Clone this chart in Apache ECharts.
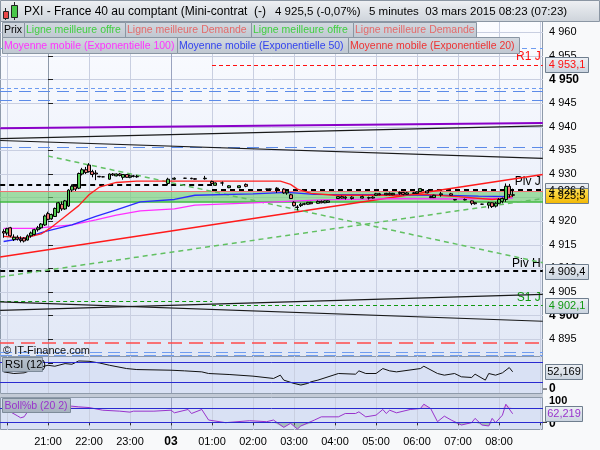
<!DOCTYPE html>
<html>
<head>
<meta charset="utf-8">
<script src="https://cdn.jsdelivr.net/npm/echarts@6/dist/echarts.min.js"></script>
<style>
  html, body { margin: 0; padding: 0; background: #f8f9fa; }
  #chart { width: 600px; height: 450px; }
</style>
</head>
<body>
<div id="chart"></div>
<script>
// bougies 5 minutes, PXI mini-contrat, soirée du 02 au matin du 03 mars
const candleTimes = [
  '19:55','20:00','20:05','20:10','20:15','20:20','20:25','20:30','20:35','20:40','20:45','20:50','20:55',
  '21:00','21:05','21:10','21:15','21:20','21:25','21:30','21:35','21:40','21:45','21:50','21:55',
  '22:00','22:05','22:10','22:15','22:20','22:30','22:35','22:40','22:45','22:50','22:55','23:00','23:05','23:10',
  '23:55','00:05','00:20','00:30','00:35','00:50','01:00','01:05','01:15','01:25','01:40','01:50',
  '02:20','02:25','02:35','02:45','02:50','02:55','03:00','03:05','03:10','03:15','03:20','03:25','03:35','03:40','03:45','03:50',
  '04:05','04:10','04:15','04:25','04:40','04:50','04:55','05:00','05:05','05:15','05:20','05:25','05:35','05:40','05:45','05:55',
  '06:00','06:05','06:15','06:20','06:25','06:35','06:50','06:55','07:10','07:20','07:25','07:35','07:45','07:50','07:55','08:00','08:05','08:10','08:15','08:20'
];
const opens = [
  4917.8,4917.5,4918.6,4916.1,4916.6,4916.2,4916.4,4916.0,4916.9,4917.2,4918.2,4918.6,4919.2,
  4921.6,4920.5,4921.0,4921.9,4923.6,4922.6,4923.2,4926.6,4927.4,4927.0,4930.0,4930.9,
  4931.9,4930.5,4930.2,4929.5,4929.4,4928.9,4930.0,4929.6,4930.0,4929.3,4929.9,4929.3,4929.6,4929.5,
  4928.0,4928.9,4929.1,4929.1,4929.0,4929.0,4928.4,4927.6,4928.1,4927.1,4927.1,4927.8,
  4926.8,4926.8,4927.0,4926.8,4926.0,4925.6,4924.0,4923.0,4923.3,4923.6,4923.6,4924.0,4923.8,4924.2,4923.9,4924.0,
  4924.8,4925.2,4924.9,4925.1,4924.9,4925.0,4924.9,4925.5,4925.8,4925.6,4925.9,4925.6,4925.9,4926.1,4925.7,4926.0,
  4925.9,4926.3,4926.4,4925.2,4925.0,4925.6,4925.8,4924.6,4924.6,4924.3,4923.9,4923.6,4923.4,4923.9,4923.2,4923.8,4924.2,4924.6,4927.4,4925.6
];
const highs = [
  4918.3,4918.6,4918.8,4917.2,4917.0,4916.8,4916.6,4917.2,4917.8,4918.4,4919.0,4919.6,4921.4,
  4922.0,4921.6,4922.9,4924.1,4924.2,4924.5,4926.8,4927.8,4927.8,4930.3,4931.3,4931.5,
  4932.3,4930.9,4930.8,4929.6,4929.5,4930.1,4930.2,4930.1,4930.2,4930.0,4930.0,4929.9,4929.8,4929.8,
  4929.2,4929.3,4929.2,4929.2,4929.1,4929.6,4928.6,4928.2,4928.4,4927.6,4927.6,4928.0,
  4926.9,4926.9,4927.2,4927.0,4926.6,4925.8,4924.2,4923.4,4923.9,4923.9,4924.1,4924.1,4924.4,4924.4,4924.4,4924.4,
  4925.3,4925.4,4925.3,4925.3,4925.4,4925.2,4925.3,4926.0,4926.0,4926.0,4926.1,4926.0,4926.3,4926.2,4926.2,4926.2,
  4926.3,4927.0,4926.6,4925.4,4925.6,4926.2,4926.0,4924.7,4924.8,4924.4,4924.0,4923.7,4924.1,4924.0,4924.1,4924.9,4925.0,4928.0,4927.9,4926.9
];
const lows = [
  4916.5,4917.0,4916.6,4915.8,4915.9,4915.5,4915.5,4915.9,4916.5,4917.0,4917.8,4918.3,4919.0,
  4920.2,4920.3,4920.9,4921.7,4922.2,4922.4,4923.0,4926.2,4926.4,4926.8,4929.7,4930.0,
  4930.3,4929.3,4928.7,4929.3,4929.3,4928.8,4929.6,4929.5,4929.5,4928.8,4929.2,4929.1,4929.3,4929.2,
  4927.6,4928.8,4929.0,4928.9,4928.8,4928.8,4927.9,4927.5,4927.5,4927.0,4927.0,4927.2,
  4926.7,4926.7,4926.0,4925.8,4925.6,4924.7,4923.1,4922.3,4923.0,4923.4,4923.5,4923.6,4923.7,4923.8,4923.8,4923.9,
  4924.7,4924.8,4924.6,4924.6,4924.8,4924.6,4924.8,4925.4,4925.5,4925.5,4925.5,4925.5,4925.6,4925.5,4925.6,4925.8,
  4925.8,4926.2,4925.9,4924.9,4924.9,4925.2,4925.4,4924.4,4924.4,4923.4,4923.5,4923.5,4922.7,4922.8,4922.9,4923.6,4923.8,4924.1,4925.0,4925.2
];
const closes = [
  4917.5,4918.4,4916.9,4916.6,4916.2,4915.9,4915.8,4916.9,4917.5,4918.2,4918.6,4919.4,4921.1,
  4920.4,4921.4,4922.7,4923.9,4922.6,4924.3,4926.6,4927.4,4926.8,4930.1,4930.9,4930.3,
  4930.5,4929.9,4930.0,4929.4,4929.4,4930.0,4929.8,4930.0,4929.7,4929.9,4929.3,4929.6,4929.5,4929.4,
  4928.9,4929.1,4929.1,4929.0,4928.9,4929.1,4928.0,4928.1,4928.1,4927.5,4927.5,4927.4,
  4926.8,4926.8,4926.9,4926.0,4926.4,4924.8,4923.3,4922.9,4923.6,4923.7,4924.0,4923.7,4924.2,4923.9,4924.3,4924.3,
  4925.2,4924.9,4925.1,4924.8,4925.2,4924.9,4925.1,4925.8,4925.6,4925.9,4925.6,4925.9,4926.1,4925.7,4926.0,4925.9,
  4926.2,4926.9,4926.0,4925.0,4925.5,4925.8,4925.5,4924.5,4924.5,4923.8,4923.7,4923.6,4923.9,4923.1,4923.8,4924.6,4924.8,4927.4,4925.6,4925.5
];

// moyennes mobiles exponentielles
const ema20Times  = ['19:55','20:25','20:50','21:05','21:25','21:45','22:00','22:15','22:40','23:10','02:40','02:55','03:05','03:25','04:00','05:30','06:10','07:00','07:50','08:10','08:20'];
const ema20Values = [4916.8,4916.4,4917.3,4918.7,4921.0,4923.3,4925.6,4927.2,4928.2,4928.5,4928.5,4927.8,4926.8,4925.9,4925.5,4925.5,4925.7,4925.2,4924.6,4924.9,4925.3];
const ema50Times  = ['19:55','20:25','20:55','21:35','22:10','22:40','23:15','00:05','00:35','02:00','02:50','03:30','05:00','06:30','07:30','08:20'];
const ema50Values = [4915.7,4916.4,4917.8,4919.2,4921.0,4922.4,4924.1,4924.6,4925.5,4925.8,4926.1,4925.7,4925.6,4925.5,4925.3,4925.2];
const ema100Times  = ['19:55','20:40','21:35','22:10','22:40','23:15','00:05','00:35','02:00','03:40','05:30','07:00','08:20'];
const ema100Values = [4918.5,4918.5,4919.2,4920.3,4921.3,4922.2,4922.6,4923.4,4923.9,4924.5,4924.8,4924.7,4924.9];

// meilleure offre / meilleure demande
const bestBid = 4924.1;
const bestAsk = 4926.4;
const lastPrice = 4925.5;

// droites tracées (début / fin)
const trendFromTimes = ['19:50','19:50','21:00','19:50','19:50','19:50','19:50','19:50'];
const trendFromPrices = [4912.4,4908.2,4933.8,4939.7,4937.5,4937.1,4902.9,4901.1];
const trendToTimes = ['09:04','09:04','09:04','09:04','09:04','09:04','09:04','09:04'];
const trendToPrices = [4929.9,4924.8,4911.2,4940.8,4940.2,4933.3,4898.8,4904.5];

// pivots
const pivotNames  = ['R1 J','Piv J','Piv J','Piv H','S1 J','S1 J'];
const pivotValues = [4953.1,4927.7,4926.6,4909.4,4903.0,4902.1];
const pivotStart  = ['01:00','19:50','01:00','19:50','19:50','01:00'];
const pivotEnd    = ['09:04','01:00','09:04','09:04','01:00','09:04'];

// autres niveaux horizontaux
const levelValues = [4956.6,4948.2,4947.6,4945.6,4935.6,4894.2,4892.3,4891.6];

// RSI (12) et Boll%b (20 2)
const rsiTimes = ['19:55','20:10','20:25','20:50','21:00','21:10','21:25','21:35','21:45','22:00','22:15','22:30','22:55','23:10','00:00','00:20','00:45','00:55','01:25','02:00','02:30','02:40','02:45','03:00','03:10','03:20','03:25','03:35','04:05','04:30','04:35','04:45','05:00','05:10','05:20','05:30','06:05','06:10','06:30','06:40','06:55','07:05','07:20','07:25','07:40','07:45','07:55','08:05','08:15','08:20'];
const rsiValues = [52,47,49,67,72,69,77,75,85,84,79,72,62,59,57,55,52,47,44,39,32,42,27,17,12,17,22,27,47,45,55,47,47,62,55,52,62,69,47,42,47,37,35,45,27,47,42,49,65,52.169];
const bollTimes = ['20:05','20:15','20:20','20:25','20:30','20:40','21:00','21:20','21:35','21:45','22:00','22:20','22:45','23:00','23:05','23:35','00:00','00:05','00:25','00:30','00:45','00:55','01:20','01:55','02:20','02:30','02:45','02:55','03:05','03:10','03:30','03:40','04:05','04:15','04:30','04:35','04:45','05:00','05:10','05:15','05:20','05:30','05:50','06:05','06:10','06:20','06:30','06:40','06:50','07:05','07:20','07:25','07:35','07:45','07:50','07:55','08:05','08:10','08:20'];
const bollValues = [76,48,33,40,76,95,108,115,117,112,107,88,81,74,81,81,88,69,93,64,93,17,-2,12,5,17,-36,-7,-48,-26,17,40,40,64,64,76,40,52,93,64,88,69,93,100,131,100,5,45,17,-19,-2,29,-19,-26,29,-2,52,131,62.219];

// repères horaires de l'axe (minutes depuis 21:00)
const hourTicks  = [-60,0,60,120,180,240,300,360,420,480,540,600,660,720];
const hourLabels = [0,60,120,180,240,300,360,420,480,540,600,660];
const dayLabel = '03';
const font = '"Liberation Sans", Arial, sans-serif';

// heure -> minutes depuis 21:00
function tm(s) {
  const p = s.split(':');
  const h = +p[0], m = +p[1];
  return (h >= 19 ? h - 21 : h + 3) * 60 + m;
}
function fmtInt(v) { const s = String(v); return s.slice(0, 1) + ' ' + s.slice(1); }
function fmtDec(v) { const s = v.toFixed(1).replace('.', ','); return s.slice(0, 1) + ' ' + s.slice(1); }

// 41 px par heure, 21:00 à 48 px, bord droit à 543 px
const xMin = -48 * 60 / 41, xMax = 495 * 60 / 41;
const gridLeft = 0, gridWidth = 543;

const candles = candleTimes.map((t, i) => [tm(t), opens[i], closes[i], lows[i], highs[i]]);
const pairs = (ts, vs) => ts.map((t, i) => [tm(t), vs[i]]);

function xAxisFor(idx, showLabels) {
  return {
    type: 'value', gridIndex: idx, min: xMin, max: xMax,
    axisLine: { show: showLabels, lineStyle: { color: '#8e9aaa' } },
    axisTick: { show: showLabels, length: 3, customValues: hourTicks, lineStyle: { color: '#333' } },
    axisLabel: {
      show: showLabels, margin: 6, fontSize: 11, color: '#000', fontFamily: font,
      customValues: hourLabels,
      formatter: v => {
        const h = (21 + Math.round(v / 60)) % 24;
        if (h === 0) return '{b|' + dayLabel + '}';
        return String(h).padStart(2, '0') + ':00';
      },
      rich: { b: { fontWeight: 'bold', fontSize: 12, fontFamily: font, color: '#000' } }
    },
    splitLine: { show: false }
  };
}
function hourGrid(idx) {
  return {
    type: 'line', xAxisIndex: idx, yAxisIndex: idx, data: [], z: 0, silent: true,
    markLine: {
      silent: true, z: 0, symbol: ['none', 'none'], animation: false, label: { show: false },
      data: hourTicks.map(v => ({ xAxis: v, lineStyle: { color: v === 180 ? '#9aa3bf' : '#c9cfe1', width: 1, type: 'solid' } }))
    }
  };
}

const trendStyles = [
  { color: '#ff1a1a', width: 1.5, type: 'solid' },
  { color: '#62c062', width: 1.5, type: [5, 4] },
  { color: '#62c062', width: 1.5, type: [5, 4] },
  { color: '#8a00c8', width: 2, type: 'solid' },
  { color: '#1a1a1a', width: 1.2, type: 'solid' },
  { color: '#1a1a1a', width: 1.2, type: 'solid' },
  { color: '#1a1a1a', width: 1.2, type: 'solid' },
  { color: '#1a1a1a', width: 1.2, type: 'solid' }
];
const levelStyles = [
  { color: '#6f9cf0', width: 1, type: [5, 4] },
  { color: '#6f9cf0', width: 1, type: [4, 3] },
  { color: '#5c8be8', width: 1, type: [12, 7] },
  { color: '#5c8be8', width: 1, type: [12, 7] },
  { color: '#5c8be8', width: 1, type: [12, 7] },
  { color: '#ff4a4a', width: 1.5, type: [14, 7] },
  { color: '#6f9cf0', width: 1, type: [12, 6] },
  { color: '#6f9cf0', width: 1, type: [12, 6] }
];
const pivotColor = n => n[0] === 'R' ? '#ff1010' : (n[0] === 'S' ? '#119911' : '#000');

const markLines = [];
levelValues.forEach((v, i) => markLines.push({ yAxis: v, lineStyle: levelStyles[i], label: { show: false } }));
markLines.push({ yAxis: bestAsk, lineStyle: { color: '#ee7070', width: 1, type: 'solid' }, label: { show: false } });
markLines.push({ yAxis: bestBid, lineStyle: { color: '#3cb93c', width: 1.5, type: 'solid' }, label: { show: false } });
pivotNames.forEach((n, i) => {
  const thin = n[0] === 'S' || n[0] === 'R';
  markLines.push([
    {
      coord: [tm(pivotStart[i]), pivotValues[i]],
      lineStyle: thin ? { color: pivotColor(n), width: 1, type: [4, 3] } : { color: '#000', width: 2, type: [5, 4] },
      label: {
        show: pivotEnd[i] === '09:04', formatter: n, position: 'insideEndTop', distance: 2,
        color: pivotColor(n), fontSize: 12, fontFamily: font
      }
    },
    { coord: [tm(pivotEnd[i]), pivotValues[i]] }
  ]);
});

const series = [hourGrid(0), hourGrid(1), hourGrid(2)];
series.push({
  name: 'niveaux', type: 'line', xAxisIndex: 0, yAxisIndex: 0, data: [], z: 1,
  markArea: { silent: true, z: 1, itemStyle: { color: 'rgba(112,206,112,0.62)' }, data: [[{ yAxis: bestBid }, { yAxis: bestAsk }]] },
  markLine: { silent: true, z: 2, symbol: ['none', 'none'], animation: false, label: { show: false }, data: markLines }
});
trendFromTimes.forEach((t, i) => {
  series.push({
    type: 'line', xAxisIndex: 0, yAxisIndex: 0, z: 3, symbol: 'none', silent: true,
    lineStyle: trendStyles[i],
    data: [[tm(t), trendFromPrices[i]], [tm(trendToTimes[i]), trendToPrices[i]]]
  });
});
[[ema100Times, ema100Values, '#ff30ff'], [ema50Times, ema50Values, '#2b2bff'], [ema20Times, ema20Values, '#ff2020']].forEach(e => {
  series.push({
    type: 'line', xAxisIndex: 0, yAxisIndex: 0, z: 4, symbol: 'none', silent: true,
    lineStyle: { color: e[2], width: 1.3 }, data: pairs(e[0], e[1])
  });
});
series.push({
  name: 'Prix', type: 'candlestick', xAxisIndex: 0, yAxisIndex: 0, z: 6, barWidth: 3.4,
  encode: { x: 0, y: [1, 2, 3, 4] },
  itemStyle: { color: '#55cc55', color0: '#f47a7a', borderColor: '#000', borderColor0: '#000', borderColorDoji: '#000', borderWidth: 1 },
  data: candles
});

// RSI
series.push({
  type: 'line', xAxisIndex: 1, yAxisIndex: 1, z: 3, symbol: 'none', silent: true,
  lineStyle: { opacity: 0, width: 0 },
  areaStyle: { origin: 20, color: 'rgba(90,140,100,0.55)' },
  data: rsiTimes.map((t, i) => [tm(t), Math.min(rsiValues[i], 20)])
});
series.push({
  type: 'line', xAxisIndex: 1, yAxisIndex: 1, z: 4, symbol: 'none', silent: true,
  lineStyle: { color: '#111', width: 1 }, data: pairs(rsiTimes, rsiValues),
  markLine: { silent: true, symbol: ['none', 'none'], label: { show: false }, animation: false,
    lineStyle: { color: '#2a2ad0', width: 1, type: 'solid' }, data: [{ yAxis: 80 }, { yAxis: 20 }] }
});

// Boll%b
series.push({
  type: 'line', xAxisIndex: 2, yAxisIndex: 2, z: 3, symbol: 'none', silent: true,
  lineStyle: { opacity: 0, width: 0 },
  areaStyle: { origin: 0, color: 'rgba(90,140,100,0.55)' },
  data: bollTimes.map((t, i) => [tm(t), Math.min(bollValues[i], 0)])
});
series.push({
  type: 'line', xAxisIndex: 2, yAxisIndex: 2, z: 3, symbol: 'none', silent: true,
  lineStyle: { opacity: 0, width: 0 },
  areaStyle: { origin: 100, color: 'rgba(225,140,200,0.6)' },
  data: bollTimes.map((t, i) => [tm(t), Math.max(bollValues[i], 100)])
});
series.push({
  type: 'line', xAxisIndex: 2, yAxisIndex: 2, z: 4, symbol: 'none', silent: true,
  lineStyle: { color: '#9933cc', width: 1 }, data: pairs(bollTimes, bollValues),
  markLine: { silent: true, symbol: ['none', 'none'], label: { show: false }, animation: false,
    lineStyle: { color: '#2a2ad0', width: 1, type: 'solid' }, data: [{ yAxis: 100 }, { yAxis: 0 }] }
});

const chart = echarts.init(document.getElementById('chart'), null, { renderer: 'canvas' });
chart.setOption({
  animation: false,
  backgroundColor: '#f8f9fa',
  grid: [
    { left: gridLeft, width: gridWidth, top: 8.8, height: 354 },
    { left: gridLeft, width: gridWidth, top: 357, height: 36 },
    { left: gridLeft, width: gridWidth, top: 398, height: 32 }
  ],
  xAxis: [xAxisFor(0, false), xAxisFor(1, false), xAxisFor(2, true)],
  yAxis: [
    {
      type: 'value', gridIndex: 0, position: 'right', min: 4890, max: 4965, interval: 5,
      axisLine: { show: true, lineStyle: { color: '#8e9aaa' } },
      axisTick: { show: true, length: 5, lineStyle: { color: '#222' } },
      axisLabel: {
        margin: 6, fontSize: 11, color: '#000', fontFamily: font,
        formatter: v => (v <= 4890 || v >= 4965) ? '' : (v % 50 === 0 ? '{b|' + fmtInt(v) + '}' : fmtInt(v)),
        rich: { b: { fontWeight: 'bold', fontSize: 12, fontFamily: font, color: '#000' } }
      },
      splitLine: { show: true, showMinLine: false, showMaxLine: false, lineStyle: { color: '#c9cfe1' } }
    },
    { type: 'value', gridIndex: 1, min: -12, max: 97, show: false, splitLine: { show: false } },
    { type: 'value', gridIndex: 2, min: -55, max: 176, show: false, splitLine: { show: false } }
  ],
  series: series
});

// habillage : en-tête, légendes, cartouches de valeurs
const g = [];
function rect(x, y, w, h, fill, stroke, z) {
  g.push({ type: 'rect', silent: true, z: z, shape: { x: x, y: y, width: w, height: h },
    style: { fill: fill, stroke: stroke || null, lineWidth: stroke ? 1 : 0 } });
}
function text(x, y, str, fill, f, align, z) {
  g.push({ type: 'text', silent: true, z: z,
    style: { x: x, y: y, text: str, fill: fill, font: f, textAlign: align || 'left', textVerticalAlign: 'middle', verticalAlign: 'middle' } });
}
function line(x1, y1, x2, y2, color, z) {
  g.push({ type: 'line', silent: true, z: z, shape: { x1: x1, y1: y1, x2: x2, y2: y2 }, style: { stroke: color, lineWidth: 1 } });
}
const grad = (a, b) => ({ type: 'linear', x: 0, y: 0, x2: 0, y2: 1, colorStops: [{ offset: 0, color: a }, { offset: 1, color: b }] });

// fonds des panneaux
rect(0.5, 21.5, 542, 335, { type: 'linear', x: 0, y: 0, x2: 0, y2: 1, colorStops: [
  { offset: 0, color: '#fbfcff' }, { offset: 0.45, color: '#eef2fb' }, { offset: 1, color: '#e2e8f6' }] }, '#8e9aaa', -10);
rect(0.5, 356.5, 542, 37, '#d9e1f4', '#8e9aaa', -10);
rect(0, 394, 543, 3, '#c3cad6', null, -10);
rect(0.5, 397.5, 542, 32, '#d9e1f4', '#8e9aaa', -10);
rect(544, 356, 56, 94, '#f8f9fa', null, 30);

// en-tête
rect(0.5, 0.5, 599, 21, grad('#eff1f4', '#cdd3da'), '#8b96a3', 100);
line(5.5, 8, 5.5, 20, '#222', 101);
rect(3.5, 11.5, 5, 7, '#e84848', '#222', 102);
line(14.5, 2, 14.5, 20, '#222', 101);
rect(11.5, 5.5, 6, 12, '#49c649', '#222', 102);
text(24, 11.5, 'PXI - France 40 au comptant (Mini-contrat  (-)', '#000', '12px ' + font, 'left', 103);
text(275, 11.5, '4 925,5 (-0,07%)', '#000', '11.5px ' + font, 'left', 103);
text(369, 11.5, '5 minutes  03 mars 2015 08:23 (07:23)', '#000', '11.5px ' + font, 'left', 103);

// légendes
const legendRow1 = [[2, 24, 'Prix', '#000'], [24, 125, 'Ligne meilleure offre', '#3fcf3f'], [125, 251, 'Ligne meilleure Demande', '#e46a6a'],
  [251, 353, 'Ligne meilleure offre', '#3fcf3f'], [353, 476, 'Ligne meilleure Demande', '#e46a6a']];
const legendRow2 = [[2, 177, 'Moyenne mobile (Exponentielle 100)', '#ff33ff'], [177, 348, 'Moyenne mobile (Exponentielle 50)', '#3344ee'],
  [348, 519, 'Moyenne mobile (Exponentielle 20)', '#ee3333']];
legendRow1.forEach(b => { rect(b[0] + 0.5, 22.5, b[1] - b[0], 15, grad('#d3d9e0', '#bfc7d1'), '#8a96a3', 100); text(b[0] + 2, 30.5, b[2], b[3], '10.5px ' + font, 'left', 101); });
legendRow2.forEach(b => { rect(b[0] + 0.5, 37.5, b[1] - b[0], 16, grad('#d3d9e0', '#bfc7d1'), '#8a96a3', 100); text(b[0] + 2, 46, b[2], b[3], '10.5px ' + font, 'left', 101); });

// copyright
text(3, 351, '\u00a9 IT-Finance.com', '#111', '11px ' + font, 'left', 20);

// étiquettes des panneaux
rect(2.5, 357.5, 40, 14, grad('#b9c3cf', '#a5b1be'), '#7d8b9a', 40);
text(5, 365, 'RSI (12)', '#000', '11px ' + font, 'left', 41);
rect(2.5, 398.5, 68, 14, grad('#b9c3cf', '#a5b1be'), '#7d8b9a', 40);
text(4.5, 406, 'Boll%b (20 2)', '#9933cc', '10.5px ' + font, 'left', 41);

// cartouches de l'axe des prix
const yP = v => chart.convertToPixel({ yAxisIndex: 0 }, v);
const yR = v => chart.convertToPixel({ yAxisIndex: 1 }, v);
const yB = v => chart.convertToPixel({ yAxisIndex: 2 }, v);
function valueBox(y, str, color, fill, w) {
  rect(545.5, Math.round(y - 7.5) + 0.5, w || 43, 15, fill, '#6f7e8e', 60);
  text(545.5 + (w || 43) / 2, Math.round(y - 7.5) + 8, str, color, '11px ' + font, 'center', 61);
}
const boxFill = grad('#eef1f5', '#c9d3df');
valueBox(yP(pivotValues[0]), fmtDec(pivotValues[0]), '#ff1010', boxFill);
valueBox(yP(pivotValues[2]), fmtDec(pivotValues[2]), '#000', boxFill);
valueBox(yP(lastPrice), fmtDec(lastPrice), '#000', grad('#ffe45c', '#f2b600'));
valueBox(yP(pivotValues[3]), fmtDec(pivotValues[3]), '#000', boxFill);
valueBox(yP(pivotValues[5]), fmtDec(pivotValues[5]), '#119911', boxFill);

// axes RSI / Boll
line(543, yR(0), 547, yR(0), '#222', 55);
text(549, yR(0), '0', '#000', 'bold 12px ' + font, 'left', 55);
line(543, yB(0), 547, yB(0), '#222', 55);
text(549, yB(0) + 1, '0', '#000', 'bold 12px ' + font, 'left', 55);
text(549, yB(100) - 8, '100', '#000', 'bold 11px ' + font, 'left', 55);
valueBox(yR(rsiValues[rsiValues.length - 1]), rsiValues[rsiValues.length - 1].toFixed(3).replace('.', ','), '#000', boxFill, 37);
valueBox(yB(bollValues[bollValues.length - 1]), bollValues[bollValues.length - 1].toFixed(3).replace('.', ','), '#9933cc', boxFill, 37);

chart.setOption({ graphic: g });
</script>
</body>
</html>
